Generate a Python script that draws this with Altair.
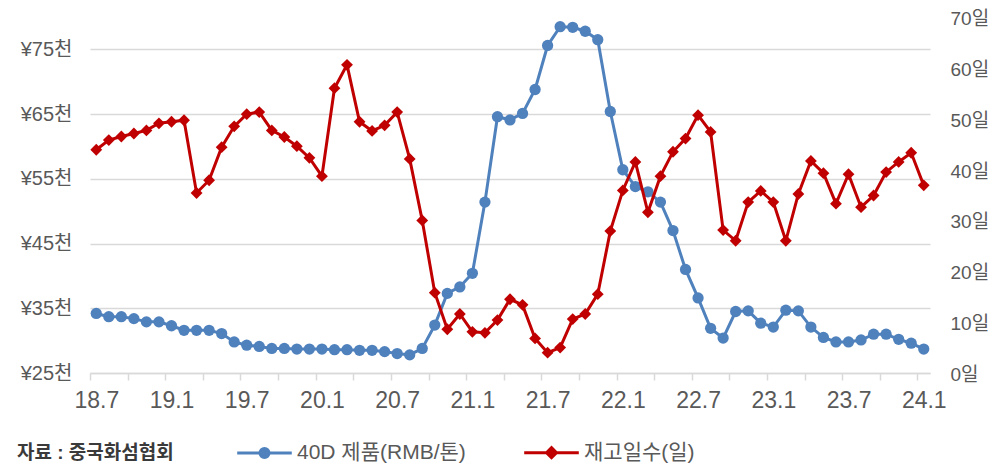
import json
import altair as alt
import pandas as pd

months = [
    "18.7", "18.8", "18.9", "18.10", "18.11", "18.12",
    "19.1", "19.2", "19.3", "19.4", "19.5", "19.6", "19.7", "19.8", "19.9", "19.10", "19.11", "19.12",
    "20.1", "20.2", "20.3", "20.4", "20.5", "20.6", "20.7", "20.8", "20.9", "20.10", "20.11", "20.12",
    "21.1", "21.2", "21.3", "21.4", "21.5", "21.6", "21.7", "21.8", "21.9", "21.10", "21.11", "21.12",
    "22.1", "22.2", "22.3", "22.4", "22.5", "22.6", "22.7", "22.8", "22.9", "22.10", "22.11", "22.12",
    "23.1", "23.2", "23.3", "23.4", "23.5", "23.6", "23.7", "23.8", "23.9", "23.10", "23.11", "23.12",
    "24.1",
]

# 40D 제품 가격 (RMB/톤)
price = [
    34200, 33700, 33700, 33400, 32900, 32900,
    32300, 31600, 31600, 31600, 31100, 29800, 29300, 29100, 28800, 28800, 28700, 28700,
    28700, 28600, 28600, 28500, 28500, 28300, 28000, 27800, 28800, 32400, 37300, 38300,
    40400, 51400, 64600, 64100, 65100, 68800, 75600, 78500, 78400, 77800, 76500, 65400,
    56400, 53800, 53000, 51400, 47000, 41000, 36600, 31900, 30400, 34500, 34600, 32700,
    32100, 34700, 34600, 32100, 30500, 29800, 29800, 30100, 31000, 31000, 30200, 29600,
    28700,
]

# 재고일수 (일)
days = [
    43.9, 45.8, 46.5, 47.1, 47.7, 49.1,
    49.4, 49.7, 35.4, 37.9, 44.4, 48.5, 50.9, 51.3, 47.7, 46.4, 44.6, 42.3,
    38.7, 56.0, 60.6, 49.4, 47.6, 48.7, 51.3, 42.1, 30.0, 15.8, 8.6, 11.6,
    8.1, 7.9, 10.4, 14.5, 13.4, 6.8, 4.0, 5.0, 10.6, 11.6, 15.5, 27.9,
    35.9, 41.5, 31.6, 38.7, 43.5, 46.1, 50.7, 47.4, 28.1, 26.0, 33.6, 35.8,
    33.6, 26.0, 35.2, 41.7, 39.3, 33.3, 39.1, 32.6, 34.9, 39.5, 41.5, 43.3,
    36.9,
]

series_names = ["40D 제품(RMB/톤)", "재고일수(일)"]
source_text = "자료 : 중국화섬협회"
left_ticks = [25000, 35000, 45000, 55000, 65000, 75000]
right_ticks = [0, 10, 20, 30, 40, 50, 60, 70]

BLUE = "#4f81bd"
RED = "#c00000"
GRID = "#d9d9d9"
LABEL = "#595959"
FONT = "Liberation Sans, Noto Sans CJK KR, sans-serif"
XFONT = "Liberation Sans Narrow, Arial Narrow, Liberation Sans, Noto Sans CJK KR, sans-serif"

df = pd.DataFrame({
    "idx": list(range(len(months))),
    "month": months,
    "price": price,
    "days": days,
})
legend_df = pd.DataFrame({"series": series_names})

n = len(months)
x_tick_values = [i - 0.5 for i in range(0, n, 3)]
months_js = json.dumps(months, ensure_ascii=False)

x_enc = alt.X(
    "idx:Q",
    title=None,
    scale=alt.Scale(domain=[-0.5, n - 0.5], nice=False, zero=False),
    axis=alt.Axis(
        values=x_tick_values,
        labelExpr=f"((datum.value + 0.5) % 6 == 0) ? {months_js}[datum.value + 0.5] : ''",
        labelOffset=6.3,
        labelFlush=False,
        labelOverlap=False,
        labelFont=XFONT,
        labelFontSize=23,
        labelColor=LABEL,
        labelPadding=9,
        tickSize=7,
        tickColor=GRID,
        tickWidth=1.5,
        domainColor=GRID,
        domainWidth=1.5,
        grid=False,
    ),
)

y_left = alt.Y(
    "price:Q",
    title=None,
    scale=alt.Scale(domain=[25000, 80000], nice=False, zero=False),
    axis=alt.Axis(
        values=left_ticks,
        labelExpr="'¥' + (datum.value / 1000) + '천'",
        labelFont=FONT,
        labelFontSize=20,
        labelColor=LABEL,
        labelPadding=18,
        ticks=False,
        domain=False,
        grid=True,
        gridColor=GRID,
        gridWidth=1.5,
        orient="left",
    ),
)

y_right = alt.Y(
    "days:Q",
    title=None,
    scale=alt.Scale(domain=[0, 70], nice=False, zero=True),
    axis=alt.Axis(
        values=right_ticks,
        labelExpr="datum.value + '일'",
        labelFont=FONT,
        labelFontSize=19,
        labelColor=LABEL,
        labelPadding=20,
        labelOffset=1.5,
        ticks=False,
        domain=False,
        grid=False,
        orient="right",
    ),
)

PATH_C = "M-4.2,0L4.2,0M-0.7,0A0.7,0.7,0,1,0,0.7,0A0.7,0.7,0,1,0,-0.7,0Z"
PATH_D = "M-4.2,0L4.2,0M-0.77,0L0,-0.77L0.77,0L0,0.77Z"

legend = alt.Legend(
    title=source_text,
    orient="none",
    legendX=-73,
    legendY=425,
    direction="horizontal",
    titleOrient="left",
    titleFont=FONT,
    titleFontSize=19,
    titleFontWeight="bold",
    titleColor="#3a3a3a",
    titlePadding=80,
    titleBaseline="middle",
    labelFont=FONT,
    labelFontSize=21,
    labelColor=LABEL,
    labelOffset=22,
    labelLimit=400,
    columnPadding=52,
    symbolSize=169,
    symbolStrokeWidth=3,
    symbolOpacity=1,
)

sc = alt.Scale(domain=series_names, range=[BLUE, RED])

legend_layer = alt.Chart(legend_df).mark_point(
    filled=True, opacity=0, strokeWidth=3, size=169
).encode(
    fill=alt.Fill("series:N", scale=sc, legend=legend),
    stroke=alt.Stroke("series:N", scale=sc, legend=legend),
    shape=alt.Shape("series:N", scale=alt.Scale(domain=series_names, range=[PATH_C, PATH_D]), legend=legend),
)

base = alt.Chart(df)

blue_line = base.mark_line(color=BLUE, strokeWidth=3).encode(x=x_enc, y=y_left)
blue_pts = base.mark_point(
    filled=True, shape="circle", size=127, opacity=1, color=BLUE
).encode(x=x_enc, y=y_left)

red_line = base.mark_line(color=RED, strokeWidth=3).encode(x=x_enc, y=y_right)
red_pts = base.mark_point(
    filled=True, shape="diamond", size=140, opacity=1, color=RED
).encode(x=x_enc, y=y_right)

chart = (
    alt.layer(alt.layer(blue_line, blue_pts), alt.layer(red_line, red_pts), legend_layer)
    .resolve_scale(y="independent")
    .properties(
        width=840,
        height=356,
        autosize=alt.AutoSizeParams(type="none"),
        padding={"left": 82, "top": 9, "right": 70, "bottom": 100},
        background="white",
    )
    .configure_view(stroke=None)
)

chart.save("out.html", embed_options={"renderer": "svg", "actions": False})
